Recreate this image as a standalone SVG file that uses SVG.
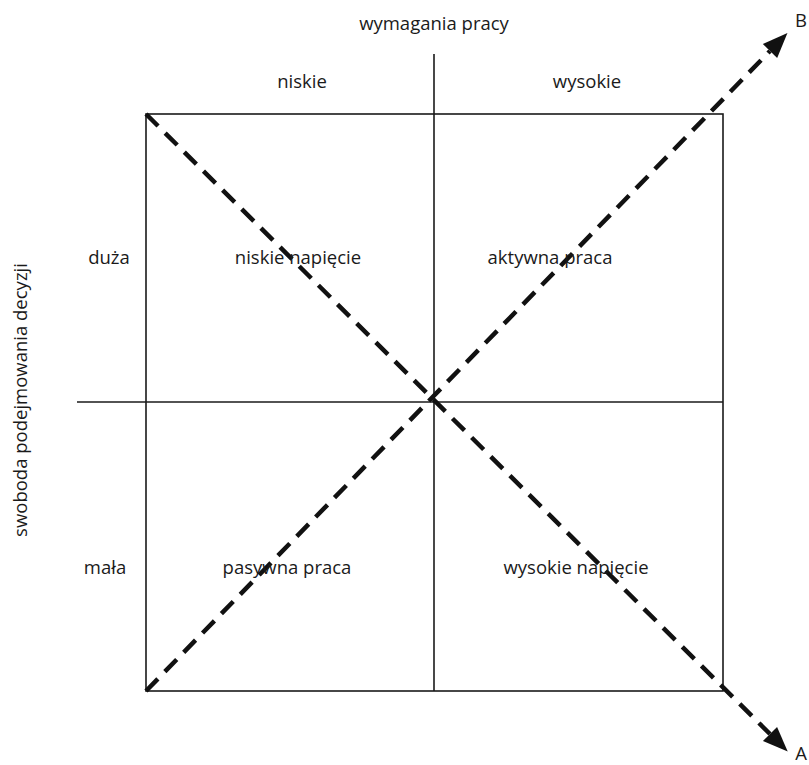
<svg xmlns="http://www.w3.org/2000/svg" width="809" height="765" viewBox="0 0 809 765">
<style>
  .t { font-family: "Open Sans", "Noto Sans", "Liberation Sans", sans-serif; font-size: 18.5px; fill: #1a1a1a; text-anchor: middle; }
  .ln { stroke: #1a1a1a; stroke-width: 1.6; fill: none; }
  .dash { stroke: #111; stroke-width: 4.5; stroke-dasharray: 17 10; fill: none; }
</style>
<defs>
  <marker id="ah" markerUnits="userSpaceOnUse" markerWidth="30" markerHeight="26" refX="0" refY="0" viewBox="-2 -13 30 26" orient="auto">
    <path d="M0,-10 L25,0 L0,10 z" fill="#111"/>
  </marker>
</defs>
<rect x="0" y="0" width="809" height="765" fill="#fff"/>
<g id="grid">
  <rect class="ln" x="146" y="114" width="577" height="577"/>
  <line class="ln" x1="434" y1="54" x2="434" y2="691"/>
  <line class="ln" x1="77" y1="402" x2="723" y2="402"/>
</g>
<g id="connectors">
  <line id="axisA" class="dash" x1="146" y1="114" x2="770" y2="734" marker-end="url(#ah)"/>
  <line id="axisB" class="dash" x1="146" y1="691" x2="770" y2="51" marker-end="url(#ah)"/>
</g>
<g id="labels">
  <text class="t" x="434" y="30">wymagania pracy</text>
  <text class="t" x="302" y="88">niskie</text>
  <text class="t" x="587" y="88">wysokie</text>
  <text class="t" x="109" y="264">duża</text>
  <text class="t" x="105" y="574">mała</text>
  <text class="t" transform="translate(27,400) rotate(-90)">swoboda podejmowania decyzji</text>
  <text class="t" x="801" y="27">B</text>
  <text class="t" x="801" y="760">A</text>
</g>
<g id="q1"><text class="t" x="298" y="264">niskie napięcie</text></g>
<g id="q2"><text class="t" x="550" y="264">aktywna praca</text></g>
<g id="q3"><text class="t" x="287" y="574">pasywna praca</text></g>
<g id="q4"><text class="t" x="576" y="574">wysokie napięcie</text></g>
</svg>
